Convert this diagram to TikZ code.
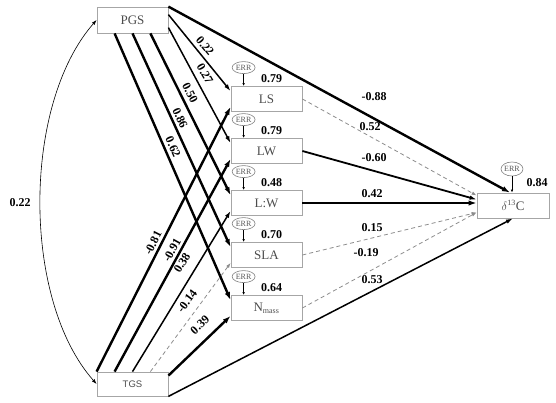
\documentclass[tikz,border=0pt]{standalone}
\usepackage{fontspec}
\setmainfont{Liberation Serif}
\newfontfamily\boxsans{Liberation Sans}
\usetikzlibrary{arrows.meta,calc,shapes.geometric}

\begin{document}
\begin{tikzpicture}[x=1pt,y=-1pt,
  var/.style={draw=black!35, line width=0.8pt, minimum width=71pt, minimum height=25pt,
    inner sep=0pt, text=black!70, font=\fontsize{13}{13}\selectfont},
  err/.style={draw=black!50, ellipse, line width=0.6pt, minimum width=23pt, minimum height=12pt,
    inner sep=0pt, text=black!65, font=\fontsize{8}{8}\selectfont},
  coef/.style={font=\fontsize{12}{12}\selectfont\bfseries, inner sep=0pt},
  strong/.style={line width=2.4pt, -{Latex[length=8pt,width=5.5pt]}},
  mid/.style={line width=1.5pt, -{Latex[length=7pt,width=4.5pt]}},
  ns/.style={draw=black!45, dashed, line width=0.8pt, dash pattern=on 4pt off 3pt, -{Latex[length=5pt,width=3.5pt]}},
  small arrow/.style={line width=0.6pt, -{Latex[length=3pt,width=2.5pt]}}]
\useasboundingbox (0,0) rectangle (556,403);

% Exogenous and response variables
\node[var, minimum height=26pt] (pgs) at (132.5,20) {PGS};
\node[var, minimum height=24pt, font=\boxsans\fontsize{9.5}{9.5}\selectfont] (tgs) at (132.5,384) {TGS};
\node[var] (ls)    at (266.5,99)  {LS};
\node[var] (lw)    at (266.5,151) {LW};
\node[var] (ratio) at (266.5,203) {L:W};
\node[var] (sla)   at (266.5,255) {SLA};
\node[var] (nmass) at (266.5,308) {N\textsubscript{\fontsize{8}{8}\selectfont mass}};
\node[var, minimum width=72pt] (dc) at (513,205.5) {$\delta$\textsuperscript{\fontsize{8}{8}\selectfont 13}C};

% Error terms and explained variance
\foreach \v/\r in {ls/0.79, lw/0.79, ratio/0.48, sla/0.70, nmass/0.64}{
  \node[err] (err-\v) at ($(\v.north west)+(13,-18.5)$) {ERR};
  \draw[small arrow] (err-\v.south) -- (err-\v.south |- \v.north);
  \node[coef] at ($(\v.north west)+(41,-7.5)$) {\r};
}
\node[err, minimum width=22pt, minimum height=14pt] (err-dc) at (512,169) {ERR};
\draw[small arrow] (err-dc.south) -- (err-dc.south |- dc.north);
\node[coef] at (537,183) {0.84};

% Covariance between PGS and TGS
\draw[line width=0.6pt, {Latex[length=5pt,width=3.5pt]}-{Latex[length=5pt,width=3.5pt]}]
  (tgs.west) .. controls (22,300) and (22,105) .. (pgs.west);
\node[coef] at (20,203) {0.22};

% Paths from PGS
\draw[strong] (pgs.north east) -- ($(dc.north)+(-3,0)$);
\draw[mid] ($(pgs.north east)+(0,8)$) -- ($(ls.north west)+(0,5)$);
\draw[mid] ($(pgs.north east)+(0,21)$) -- ($(lw.north west)+(0,5)$);
\draw[strong] ($(pgs.south east)+(-18,0)$) -- ($(ratio.north west)+(0,5)$);
\draw[strong] (pgs.south) -- ($(sla.north west)+(0,5)$);
\draw[strong] ($(pgs.south west)+(18,0)$) -- ($(nmass.north west)+(0,5)$);

\node[coef, rotate=-50] at (205,46) {0.22};
\node[coef, rotate=-60] at (205,74) {0.27};
\node[coef, rotate=-63] at (190,93) {0.50};
\node[coef, rotate=-65] at (180,118) {0.86};
\node[coef, rotate=-66] at (173,147) {0.62};

% Paths from TGS
\draw[strong] (tgs.north west) -- ($(ls.south west)+(0,-5)$);
\draw[strong] ($(tgs.north west)+(18,0)$) -- ($(lw.south west)+(0,-5)$);
\draw[mid] (tgs.north) -- ($(ratio.south west)+(0,-5)$);
\draw[ns] ($(tgs.north east)+(-18,0)$) -- ($(sla.south west)+(0,-5)$);
\draw[strong] ($(tgs.north east)+(0,4)$) -- ($(nmass.south west)+(0,-5)$);
\draw[mid] (tgs.south east) -- (dc.south);

\node[coef, rotate=63] at (153,243) {-0.81};
\node[coef, rotate=61] at (172,250) {-0.91};
\node[coef, rotate=58] at (182,263) {0.38};
\node[coef, rotate=53] at (187,301) {-0.14};
\node[coef, rotate=43] at (200,325) {0.39};

% Paths to delta 13C
\draw[ns] (ls.east) -- ($(dc.west)+(0,-10)$);
\draw[mid, line width=1.8pt] (lw.east) -- ($(dc.west)+(0,-6)$);
\draw[strong] (ratio.east) -- (ratio.east -| dc.west);
\draw[ns] (sla.east) -- ($(dc.west)+(0,7)$);
\draw[ns] (nmass.east) -- ($(dc.west)+(0,7)$);

\node[coef] at (374,97)  {-0.88};
\node[coef] at (370,127) {0.52};
\node[coef] at (374,158) {-0.60};
\node[coef] at (372,194) {0.42};
\node[coef] at (372,228) {0.15};
\node[coef] at (366,253) {-0.19};
\node[coef] at (372,280) {0.53};

\end{tikzpicture}
\end{document}
